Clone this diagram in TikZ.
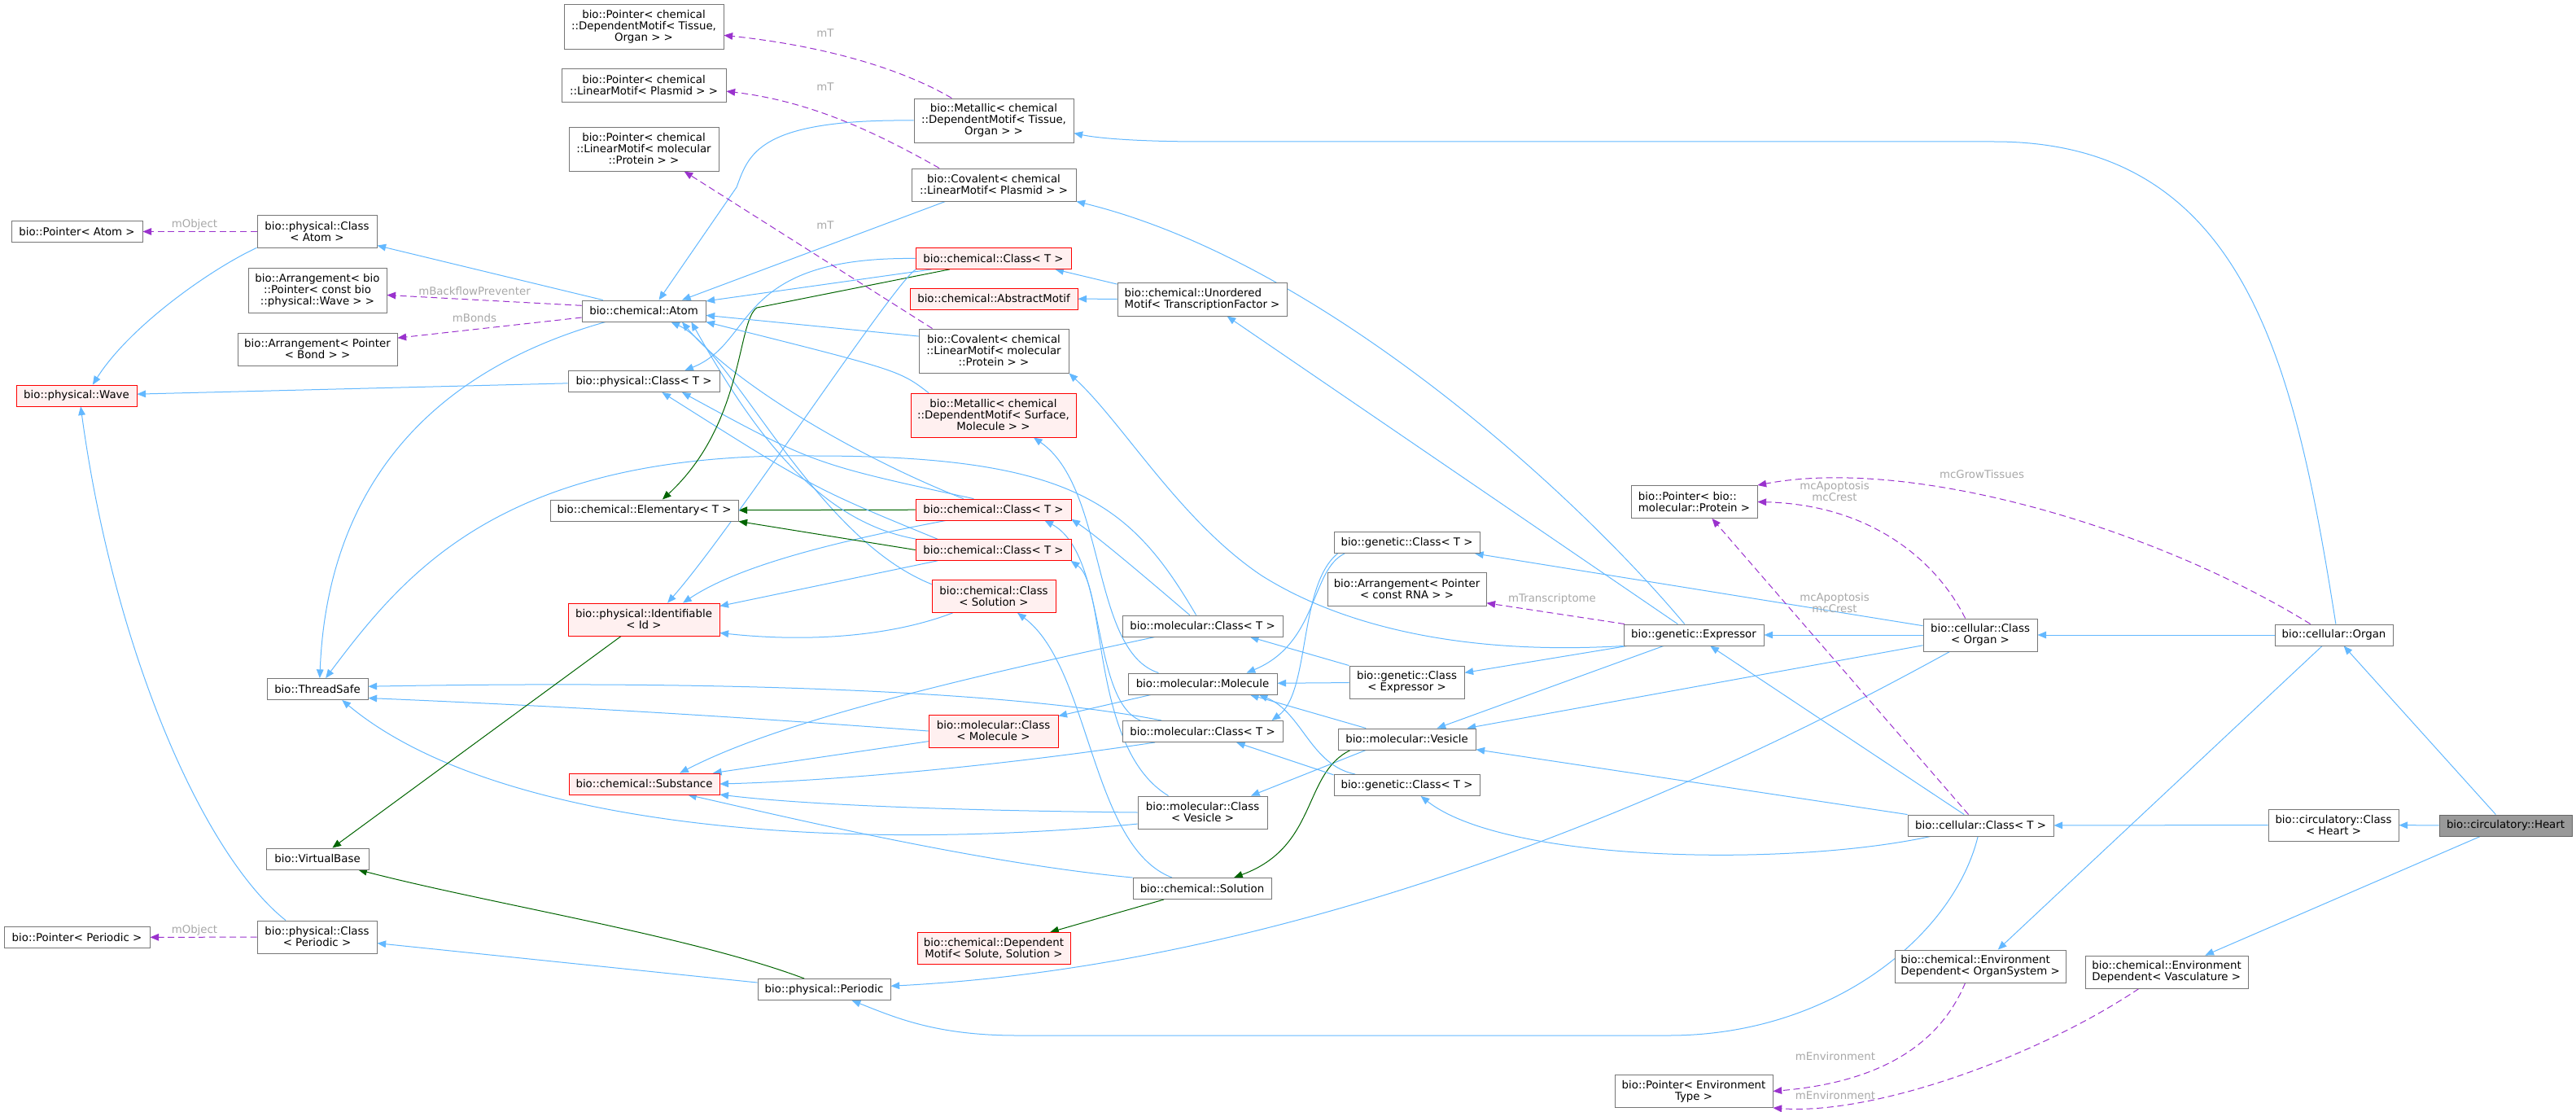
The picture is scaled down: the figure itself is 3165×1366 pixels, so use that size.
\documentclass[tikz,border=0pt]{standalone}
\usepackage{fontspec}
\newfontfamily\doxfont{DejaVu Sans}
\usetikzlibrary{arrows.meta}
\definecolor{pubblue}{HTML}{63B8FF}
\definecolor{protgreen}{HTML}{006400}
\definecolor{usepurple}{HTML}{9A32CD}
\definecolor{lblgray}{HTML}{A8A8A8}
\definecolor{boxgray}{HTML}{777777}
\definecolor{warnfill}{HTML}{FFF0F0}
\pgfdeclarelayer{edges}
\pgfsetlayers{edges,main}

\begin{document}
\begin{tikzpicture}[x=0.75pt,y=-0.75pt,>={Triangle[length=8pt,width=6.5pt]},
  every node/.style={font=\doxfont\fontsize{10pt}{10.5pt}\selectfont},
  cls/.style={draw=boxgray,fill=white,line width=0.7pt,inner sep=0pt,align=center},
  sz/.style 2 args={minimum width=#1*0.75pt,minimum height=#2*0.75pt},
  warnbox/.style={cls,draw=red,fill=warnfill,line width=0.55pt},
  focus/.style={cls,draw=gray!80!black,fill=gray!80!white},
  pub/.style={draw=pubblue,line width=0.75pt,->},
  virt/.style={draw=protgreen,line width=0.75pt,->},
  uses/.style={draw=usepurple,line width=0.75pt,dash pattern=on 6pt off 3.5pt,->},
  lbl/.style={text=lblgray,inner sep=0pt,align=center}]
\useasboundingbox (0,0) rectangle (3165,1366);

% left columns
\node[cls,sz={196}{55}] (ptrTissue) at (791,33) {bio::Pointer< chemical\\::DependentMotif< Tissue,\\Organ > >};
\node[cls,sz={202}{41}] (ptrPlasmid) at (791,105) {bio::Pointer< chemical\\::LinearMotif< Plasmid > >};
\node[cls,sz={184}{54}] (ptrProtein) at (791,183) {bio::Pointer< chemical\\::LinearMotif< molecular\\::Protein > >};
\node[cls,sz={161}{26}] (ptrAtom) at (94.5,284.5) {bio::Pointer< Atom >};
\node[cls,sz={147}{40}] (phyClsAtom) at (389.5,284.5) {bio::physical::Class\\< Atom >};
\node[cls,sz={170}{55}] (arrWave) at (390,356.5) {bio::Arrangement< bio\\::Pointer< const bio\\::physical::Wave > >};
\node[cls,sz={196}{40}] (arrBond) at (390,429) {bio::Arrangement< Pointer\\< Bond > >};
\node[warnbox,sz={148}{26}] (wave) at (94,486) {bio::physical::Wave};
\node[cls,sz={152}{26}] (atom) at (791,382) {bio::chemical::Atom};
\node[cls,sz={186}{26}] (phyClsT) at (791,468.5) {bio::physical::Class< T >};
\node[cls,sz={231}{26}] (elem) at (791.5,627) {bio::chemical::Elementary< T >};
\node[warnbox,sz={186}{40}] (ident) at (791,761) {bio::physical::Identifiable\\< Id >};
\node[cls,sz={124}{26}] (threadSafe) at (390,846.5) {bio::ThreadSafe};
\node[warnbox,sz={185}{26}] (substance) at (791.5,963) {bio::chemical::Substance};
\node[cls,sz={126}{26}] (virtualBase) at (390,1055) {bio::VirtualBase};
\node[cls,sz={179}{26}] (ptrPeriodic) at (94.5,1151.5) {bio::Pointer< Periodic >};
\node[cls,sz={147}{40}] (phyClsPeriodic) at (389.5,1151) {bio::physical::Class\\< Periodic >};
\node[cls,sz={163}{26}] (periodic) at (1012.5,1215.5) {bio::physical::Periodic};

% chemical column
\node[cls,sz={196}{54}] (metTissue) at (1221,148) {bio::Metallic< chemical\\::DependentMotif< Tissue,\\Organ > >};
\node[cls,sz={202}{40}] (covPlasmid) at (1221,227) {bio::Covalent< chemical\\::LinearMotif< Plasmid > >};
\node[warnbox,sz={191}{26}] (chemCls1) at (1220.5,317.5) {bio::chemical::Class< T >};
\node[warnbox,sz={206}{26}] (absMotif) at (1221,367) {bio::chemical::AbstractMotif};
\node[cls,sz={184}{54}] (covProtein) at (1221,431) {bio::Covalent< chemical\\::LinearMotif< molecular\\::Protein > >};
\node[warnbox,sz={203}{54}] (metSurface) at (1220.5,510) {bio::Metallic< chemical\\::DependentMotif< Surface,\\Molecule > >};
\node[warnbox,sz={191}{26}] (chemCls2) at (1220.5,626) {bio::chemical::Class< T >};
\node[warnbox,sz={191}{26}] (chemCls3) at (1220.5,675.5) {bio::chemical::Class< T >};
\node[warnbox,sz={152}{40}] (chemClsSol) at (1221,732.5) {bio::chemical::Class\\< Solution >};
\node[warnbox,sz={159}{40}] (molClsMol) at (1220.5,898) {bio::molecular::Class\\< Molecule >};
\node[warnbox,sz={188}{39}] (depMotif) at (1221,1165) {bio::chemical::Dependent\\Motif< Solute, Solution >};

% molecular and genetic columns
\node[cls,sz={208}{41},align=left] (unordered) at (1477,367.5) {bio::chemical::Unordered\\Motif< TranscriptionFactor >};
\node[cls,sz={197}{26}] (molClsA) at (1477.5,769) {bio::molecular::Class< T >};
\node[cls,sz={183}{26}] (molecule) at (1477.5,840) {bio::molecular::Molecule};
\node[cls,sz={197}{26}] (molClsB) at (1477.5,898.5) {bio::molecular::Class< T >};
\node[cls,sz={159}{40}] (molClsVes) at (1477.5,998) {bio::molecular::Class\\< Vesicle >};
\node[cls,sz={170}{26}] (solution) at (1477,1091.5) {bio::chemical::Solution};
\node[cls,sz={179}{26}] (genClsA) at (1728.5,666.5) {bio::genetic::Class< T >};
\node[cls,sz={195}{41}] (arrRNA) at (1728.5,723.5) {bio::Arrangement< Pointer\\< const RNA > >};
\node[cls,sz={141}{40}] (genClsExp) at (1728.5,838) {bio::genetic::Class\\< Expressor >};
\node[cls,sz={169}{26}] (vesicle) at (1728.5,908) {bio::molecular::Vesicle};
\node[cls,sz={179}{26}] (genClsB) at (1728.5,964.5) {bio::genetic::Class< T >};

% right columns
\node[cls,sz={155}{40},align=left] (ptrProt2) at (2081.5,616.5) {bio::Pointer< bio::\\molecular::Protein >};
\node[cls,sz={172}{26}] (expressor) at (2081,780) {bio::genetic::Expressor};
\node[cls,sz={194}{40}] (ptrEnv) at (2081,1340.5) {bio::Pointer< Environment\\Type >};
\node[cls,sz={140}{40}] (celClsOrgan) at (2433,780) {bio::cellular::Class\\< Organ >};
\node[cls,sz={179}{26}] (celClsT) at (2433.5,1014) {bio::cellular::Class< T >};
\node[cls,sz={210}{40},align=left] (envOrganSys) at (2433,1187) {bio::chemical::Environment\\Dependent< OrganSystem >};
\node[cls,sz={145}{26}] (organ) at (2867.5,780) {bio::cellular::Organ};
\node[cls,sz={160}{39}] (circCls) at (2867,1013.5) {bio::circulatory::Class\\< Heart >};
\node[cls,sz={200}{40},align=left] (envVasc) at (2662,1194) {bio::chemical::Environment\\Dependent< Vasculature >};
\node[focus,sz={163}{26}] (heart) at (3078.5,1014) {bio::circulatory::Heart};

% member labels
\node[lbl] (lblTissue) at (1014,41) {mT};
\node[lbl] (lblPlasmid) at (1014,107) {mT};
\node[lbl] (lblProtein) at (1014,277) {mT};
\node[lbl] (lblAtomObj) at (239,276) {mObject};
\node[lbl] (lblPerObj) at (239,1143) {mObject};
\node[lbl] (lblBackflow) at (583,358) {mBackflowPreventer};
\node[lbl] (lblBonds) at (583,391) {mBonds};
\node[lbl] (lblRNA) at (1907,736) {mTranscriptome};
\node[lbl] (lblGrow) at (2435,583) {mcGrowTissues};
\node[lbl] (lblOrganProt) at (2254,604) {mcApoptosis\\mcCrest};
\node[lbl] (lblCellProt) at (2254,741) {mcApoptosis\\mcCrest};
\node[lbl] (lblEnvSys) at (2255,1298) {mEnvironment};
\node[lbl] (lblEnvVasc) at (2255,1346) {mEnvironment};

\begin{pgfonlayer}{edges}
% heart and organ
\draw[pub] (heart) -- (organ);
\draw[pub] (heart) -- (circCls);
\draw[pub] (heart) -- (envVasc);
\draw[pub] (circCls) -- (celClsT);
\draw[pub] (organ) -- (celClsOrgan);
\draw[pub] (organ.80) .. controls (2820,450) and (2760,174) .. (2450,174) -- (1480,174) .. controls (1400,174) and (1350,170) .. (metTissue.-9);
\draw[pub] (organ) -- (envOrganSys);
\draw[uses] (organ.155) .. controls (2650,650) and (2350,560) .. (ptrProt2.north east);
% cellular
\draw[pub] (celClsOrgan) -- (expressor);
\draw[pub] (celClsOrgan) -- (genClsA);
\draw[pub] (celClsOrgan) -- (vesicle);
\draw[pub] (celClsOrgan) .. controls (2250,880) and (1700,1180) .. (periodic);
\draw[uses] (celClsOrgan.132) .. controls (2380,690) and (2300,620) .. (ptrProt2.east);
\draw[pub] (celClsT) -- (expressor);
\draw[pub] (celClsT) -- (vesicle);
\draw[pub] (celClsT) .. controls (2200,1065) and (1850,1060) .. (genClsB);
\draw[pub] (celClsT) .. controls (2400,1150) and (2250,1272) .. (2050,1272) -- (1250,1272) .. controls (1150,1272) and (1100,1250) .. (periodic);
\draw[uses] (celClsT.138) -- (ptrProt2.-43);
\draw[uses] (envOrganSys.-132) .. controls (2380,1290) and (2300,1330) .. (ptrEnv.east);
\draw[uses] (envVasc.-149) .. controls (2500,1300) and (2300,1370) .. (ptrEnv.south east);
% expressor
\draw[pub] (expressor) -- (unordered);
\draw[pub] (expressor) .. controls (1930,600) and (1620,320) .. (covPlasmid.south east);
\draw[pub] (expressor.south west) .. controls (1800,805) and (1650,770) .. (1550,707) .. controls (1450,640) and (1380,520) .. (covProtein.south east);
\draw[pub] (expressor) -- (genClsExp);
\draw[pub] (expressor) -- (vesicle);
\draw[uses] (expressor.171) -- (arrRNA.-10);
% genetic
\draw[pub] (genClsA.-170) .. controls (1610,700) and (1620,790) .. (molecule.14);
\draw[pub] (genClsA.-171) .. controls (1595,720) and (1610,850) .. (molClsB.9);
\draw[pub] (genClsExp) -- (molecule);
\draw[pub] (genClsExp.north west) -- (molClsA.-13);
\draw[pub] (vesicle.165) -- (molecule.-13);
\draw[pub] (vesicle.-165) -- (molClsVes.19);
\draw[virt] (vesicle.-169) .. controls (1600,950) and (1620,1040) .. (solution.19);
\draw[pub] (genClsB.168) .. controls (1610,940) and (1600,875) .. (molecule.-11);
\draw[pub] (genClsB.172) -- (molClsB.-18);
% molecular
\draw[pub] (molecule.166) .. controls (1340,800) and (1360,600) .. (metSurface.-29);
\draw[pub] (molecule.-168) -- (molClsMol.13);
\draw[pub] (molClsA) .. controls (1420,720) and (1350,660) .. (chemCls2.-7);
\draw[pub] (molClsA) .. controls (1390,620) and (1320,560) .. (1000,560) .. controls (620,555) and (500,700) .. (threadSafe);
\draw[pub] (molClsA.-167) .. controls (1150,840) and (950,890) .. (substance.17);
\draw[pub] (molClsB.165) .. controls (1250,850) and (900,835) .. (threadSafe.3);
\draw[pub] (molClsB.-167) .. controls (1200,945) and (1000,960) .. (substance.east);
\draw[pub] (molClsB.170) .. controls (1340,860) and (1360,680) .. (chemCls2.-12);
\draw[pub] (molClsMol.west) .. controls (900,880) and (700,868) .. (threadSafe.-10);
\draw[pub] (molClsMol.-171) -- (substance.9);
\draw[pub] (molClsVes.-170) .. controls (1000,1050) and (600,1010) .. (threadSafe.-24);
\draw[pub] (molClsVes.west) .. controls (1200,996) and (1000,990) .. (substance.-8);
\draw[pub] (molClsVes.154) .. controls (1340,920) and (1360,720) .. (chemCls3.-8);
% solution
\draw[pub] (solution.160) .. controls (1340,1040) and (1340,820) .. (chemClsSol.-35);
\draw[pub] (solution.north west) .. controls (1200,1060) and (950,1000) .. (substance.-14);
\draw[virt] (solution) -- (depMotif);
% chemical classes
\draw[pub] (chemClsSol.-158) .. controls (1100,780) and (1000,790) .. (ident.-10);
\draw[pub] (chemClsSol.169) .. controls (1000,660) and (900,430) .. (atom.-22);
\draw[pub] (chemCls2.151) .. controls (1000,570) .. (phyClsT.-16);
\draw[pub] (chemCls2.160) .. controls (1050,560) and (900,470) .. (atom.-16);
\draw[virt] (chemCls2) -- (elem);
\draw[pub] (chemCls2.-167) .. controls (1000,670) and (900,700) .. (ident.23);
\draw[pub] (chemCls3.169) .. controls (1000,600) .. (phyClsT.-31);
\draw[pub] (chemCls3.172) .. controls (1000,640) and (920,520) .. (atom.-13);
\draw[virt] (chemCls3.west) -- (elem.south east);
\draw[pub] (chemCls3.-169) -- (ident.10);
\draw[pub] (chemCls1.west) .. controls (900,315) and (930,420) .. (phyClsT.15);
\draw[pub] (chemCls1.-170) -- (atom.9);
\draw[virt] (chemCls1.-166) -- (930,378) .. controls (905,395) and (915,520) .. (elem.31);
\draw[pub] (chemCls1.-172) .. controls (1100,345) and (900,650) .. (ident.35);
\draw[pub] (unordered.170) -- (chemCls1.-10);
\draw[pub] (unordered) -- (absMotif);
% motifs
\draw[pub] (metTissue.west) .. controls (930,146) and (920,190) .. (905,230) -- (atom.36);
\draw[pub] (covPlasmid.-161) -- (atom.16);
\draw[pub] (covProtein.169) -- (atom.-4);
\draw[pub] (metSurface.161) .. controls (1105,455) .. (atom.-10);
\draw[uses] (metTissue.152) .. controls (1100,80) and (1000,55) .. (ptrTissue.-6);
\draw[uses] (covPlasmid.163) .. controls (1080,165) and (1000,125) .. (ptrPlasmid.-4);
\draw[uses] (covProtein.160) -- (ptrProtein.-29);
% base classes
\draw[virt] (ident) -- (virtualBase);
\draw[virt] (periodic.151) .. controls (850,1150) and (600,1110) .. (virtualBase.-15);
\draw[pub] (periodic) -- (phyClsPeriodic);
\draw[pub] (phyClsPeriodic.152) .. controls (250,1050) and (140,800) .. (wave.-69);
\draw[uses] (phyClsPeriodic) -- (ptrPeriodic);
\draw[pub] (phyClsAtom.-165) .. controls (260,330) and (160,400) .. (wave.34);
\draw[uses] (phyClsAtom) -- (ptrAtom);
\draw[pub] (phyClsT) -- (wave);
\draw[pub] (atom.165) -- (phyClsAtom.-13);
\draw[pub] (atom.-164) .. controls (480,470) and (400,650) .. (threadSafe.78);
\draw[uses] (atom.175) -- (arrWave.-4);
\draw[uses] (atom.-174) -- (arrBond.8);
\end{pgfonlayer}
\end{tikzpicture}
\end{document}
